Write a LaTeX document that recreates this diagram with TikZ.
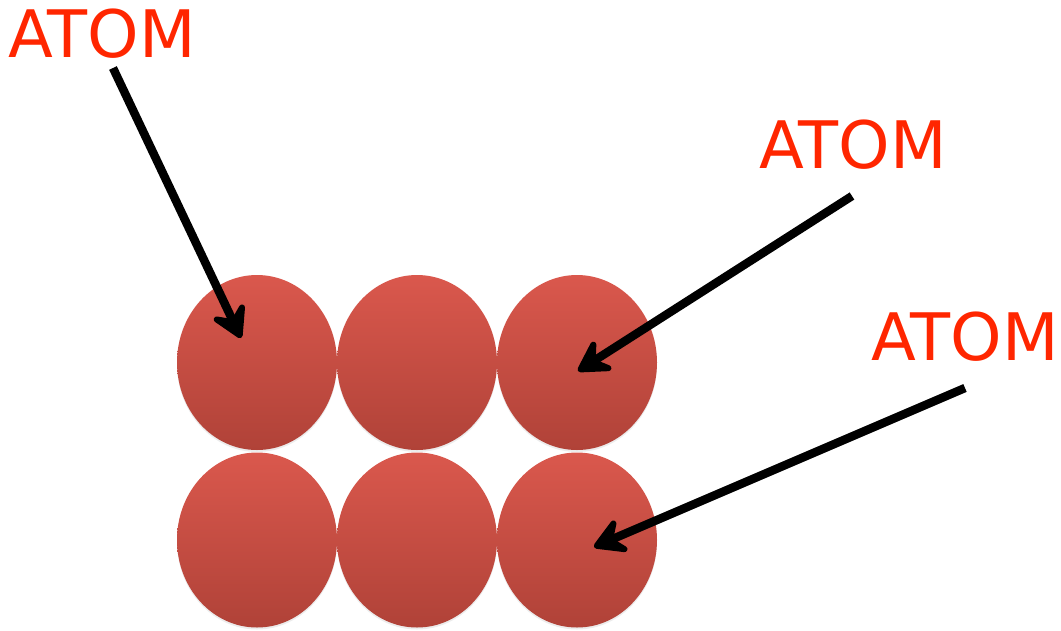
\documentclass[tikz,border=0pt]{standalone}
\usepackage{fontspec}
\setmainfont{DejaVu Sans}
\usetikzlibrary{arrows.meta,shapes.geometric,shadows}
\definecolor{atomtop}{RGB}{218,88,77}
\definecolor{atombot}{RGB}{176,66,56}
\definecolor{lblred}{RGB}{255,38,0}
\tikzset{
  atom/.style={ellipse, minimum width=160pt, minimum height=175pt, inner sep=0pt,
    top color=atomtop, bottom color=atombot, draw=none,
    drop shadow={shadow xshift=0pt, shadow yshift=-2pt, opacity=0.15}},
  lbl/.style={text=lblred, font=\fontsize{65.5}{65.5}\selectfont, inner sep=0pt, anchor=base west},
  pointer/.style={line width=8.5pt, draw=black, -{Stealth[length=40pt,width=46pt,inset=16pt,round]}}
}
\begin{document}
\begin{tikzpicture}[x=1pt,y=-1pt]
\useasboundingbox (0,0) rectangle (1061,630);
\node[atom] (a11) at (257,362.5) {};
\node[atom] (a12) at (417,362.5) {};
\node[atom] (a13) at (577,362.5) {};
\node[atom] (a21) at (257,540) {};
\node[atom] (a22) at (417,540) {};
\node[atom] (a23) at (577,540) {};
\node[lbl] (t1) at (8,57) {ATOM};
\node[lbl] (t2) at (759,168) {ATOM};
\node[lbl] (t3) at (871,360) {ATOM};
\coordinate (s1) at (113,68);
\coordinate (s2) at (852,196);
\coordinate (s3) at (965,388);
\coordinate (e1) at (241,338);
\coordinate (e2) at (578,371);
\coordinate (e3) at (594,547);
\draw[pointer] (s1) -- (e1);
\draw[pointer] (s2) -- (e2);
\draw[pointer] (s3) -- (e3);
\end{tikzpicture}
\end{document}
